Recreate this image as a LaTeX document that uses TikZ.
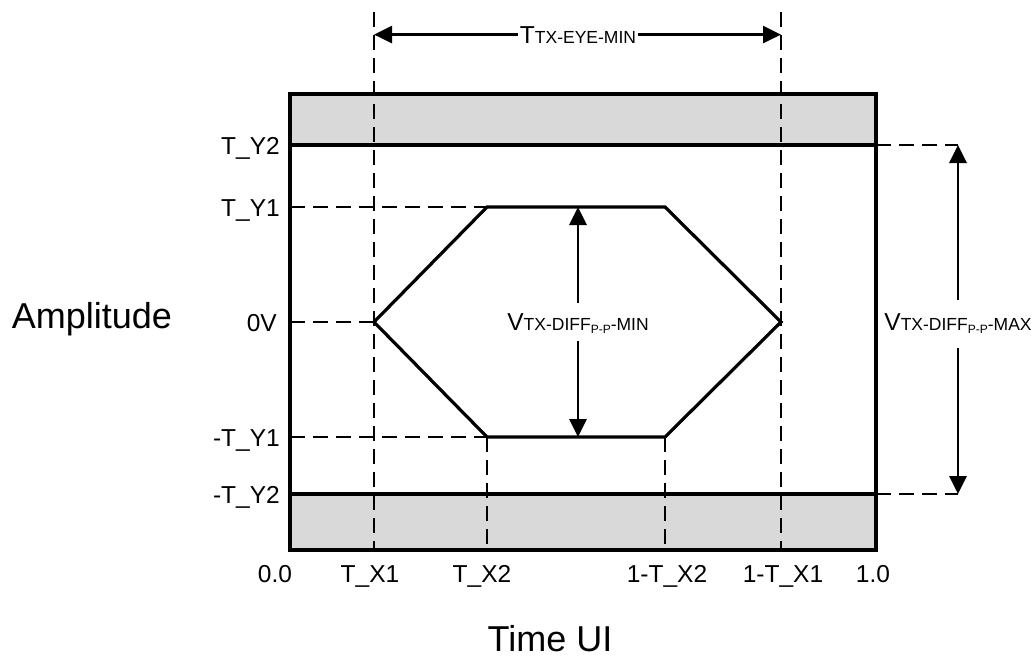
\documentclass[tikz,border=0pt]{standalone}
\usepackage{fontspec}
\setmainfont{Liberation Sans}
\usetikzlibrary{arrows.meta}
\definecolor{bandgray}{HTML}{D9D9D9}
\begin{document}
\begin{tikzpicture}[x=1pt,y=-1pt,
  thickline/.style={line width=3.2pt},
  frameline/.style={line width=3.8pt},
  dashline/.style={line width=2pt, dash pattern=on 15pt off 8pt},
  arr/.style={line width=2.8pt,-{Triangle[length=18pt,width=17pt]}},
  lbl/.style={font=\fontsize{24.5}{28}\selectfont, inner sep=0pt},
  biglbl/.style={font=\fontsize{36}{42}\selectfont, inner sep=0pt}]
\useasboundingbox (0,0) rectangle (1035,657);
% key points
\coordinate (RTL) at (290,94);
\coordinate (RBR) at (876,550);
\coordinate (Y2L) at (290,145);
\coordinate (Y2R) at (876,145);
\coordinate (mY2L) at (290,494);
\coordinate (mY2R) at (876,494);
\coordinate (Y1L) at (290,207);
\coordinate (ZL) at (290,322);
\coordinate (mY1L) at (290,437);
\coordinate (hL) at (374,322);
\coordinate (hTL) at (487,207);
\coordinate (hTR) at (665,207);
\coordinate (hR) at (781,322);
\coordinate (hBR) at (665,437);
\coordinate (hBL) at (487,437);
\coordinate (X1top) at (374,12);
\coordinate (X1bot) at (374,550);
\coordinate (X2bot) at (487,550);
\coordinate (X3bot) at (665,550);
\coordinate (X4top) at (781,12);
\coordinate (X4bot) at (781,550);
\coordinate (Y2E) at (958,145);
\coordinate (mY2E) at (958,494);
% gray bands
\fill[bandgray] (RTL) rectangle (Y2R);
\fill[bandgray] (mY2L) rectangle (RBR);
% dashed guides
\draw[dashline] (X1top) -- (X1bot);
\draw[dashline] (X4top) -- (X4bot);
\draw[dashline] (hBL) -- (X2bot);
\draw[dashline] (hBR) -- (X3bot);
\draw[dashline] (Y1L) -- (hTL);
\draw[dashline] (ZL) -- (hL);
\draw[dashline] (mY1L) -- (hBL);
\draw[dashline] (Y2R) -- (Y2E);
\draw[dashline] (mY2R) -- (mY2E);
% solid lines
\draw[thickline] (Y2L) -- (Y2R);
\draw[thickline] (mY2L) -- (mY2R);
\draw[thickline] (hL) -- (hTL) -- (hTR) -- (hR) -- (hBR) -- (hBL) -- cycle;
\draw[frameline] (RTL) rectangle (RBR);
% eye width arrow
\node[inner xsep=2pt, inner ysep=0pt, anchor=base] (ttx) at (578,43)
  {{\fontsize{24.5}{28}\selectfont T}{\fontsize{17.5}{20}\selectfont TX-EYE-MIN}};
\draw[arr] (ttx.west) -- (ttx.west -| X1top);
\draw[arr] (ttx.east) -- (ttx.east -| X4top);
% eye height arrow
\node[anchor=base, text height=18pt, text depth=2pt, inner ysep=9pt, inner xsep=0pt] (vmin) at (578,330)
  {{\fontsize{24.5}{28}\selectfont V}{\fontsize{17.5}{20}\selectfont TX-DIFF}\raisebox{-3pt}{\fontsize{12}{14}\selectfont P-P}{\fontsize{17.5}{20}\selectfont -MIN}};
\draw[arr] (vmin.north) -- (vmin.north |- hTL);
\draw[arr] (vmin.south) -- (vmin.south |- hBL);
% max amplitude arrow
\node[anchor=base, text height=18pt, text depth=6pt, inner ysep=12pt, inner xsep=0pt] (vmax) at (958,330)
  {{\fontsize{24.5}{28}\selectfont V}{\fontsize{17.5}{20}\selectfont TX-DIFF}\raisebox{-3pt}{\fontsize{12}{14}\selectfont P-P}{\fontsize{17.5}{20}\selectfont -MAX}};
\draw[arr] (vmax.north) -- (vmax.north |- Y2E);
\draw[arr] (vmax.south) -- (vmax.south |- mY2E);
% y labels
\node[lbl, anchor=base east] (lty2) at (280,154) {T\_Y2};
\node[lbl, anchor=base east] (lty1) at (280,216) {T\_Y1};
\node[lbl, anchor=base east] (l0v) at (277,331) {0V};
\node[lbl, anchor=base east] (lmty1) at (280,446) {-T\_Y1};
\node[lbl, anchor=base east] (lmty2) at (280,503) {-T\_Y2};
% x labels
\node[lbl, anchor=base] (lx0) at (275,582) {0.0};
\node[lbl, anchor=base] (lx1) at (370,582) {T\_X1};
\node[lbl, anchor=base] (lx2) at (482,582) {T\_X2};
\node[lbl, anchor=base] (lx3) at (667,582) {1-T\_X2};
\node[lbl, anchor=base] (lx4) at (783,582) {1-T\_X1};
\node[lbl, anchor=base] (lx5) at (873,582) {1.0};
% axis titles
\node[biglbl, anchor=base] (time) at (550,651) {Time UI};
\node[biglbl, anchor=base] (amp) at (92,328) {Amplitude};
\end{tikzpicture}
\end{document}
